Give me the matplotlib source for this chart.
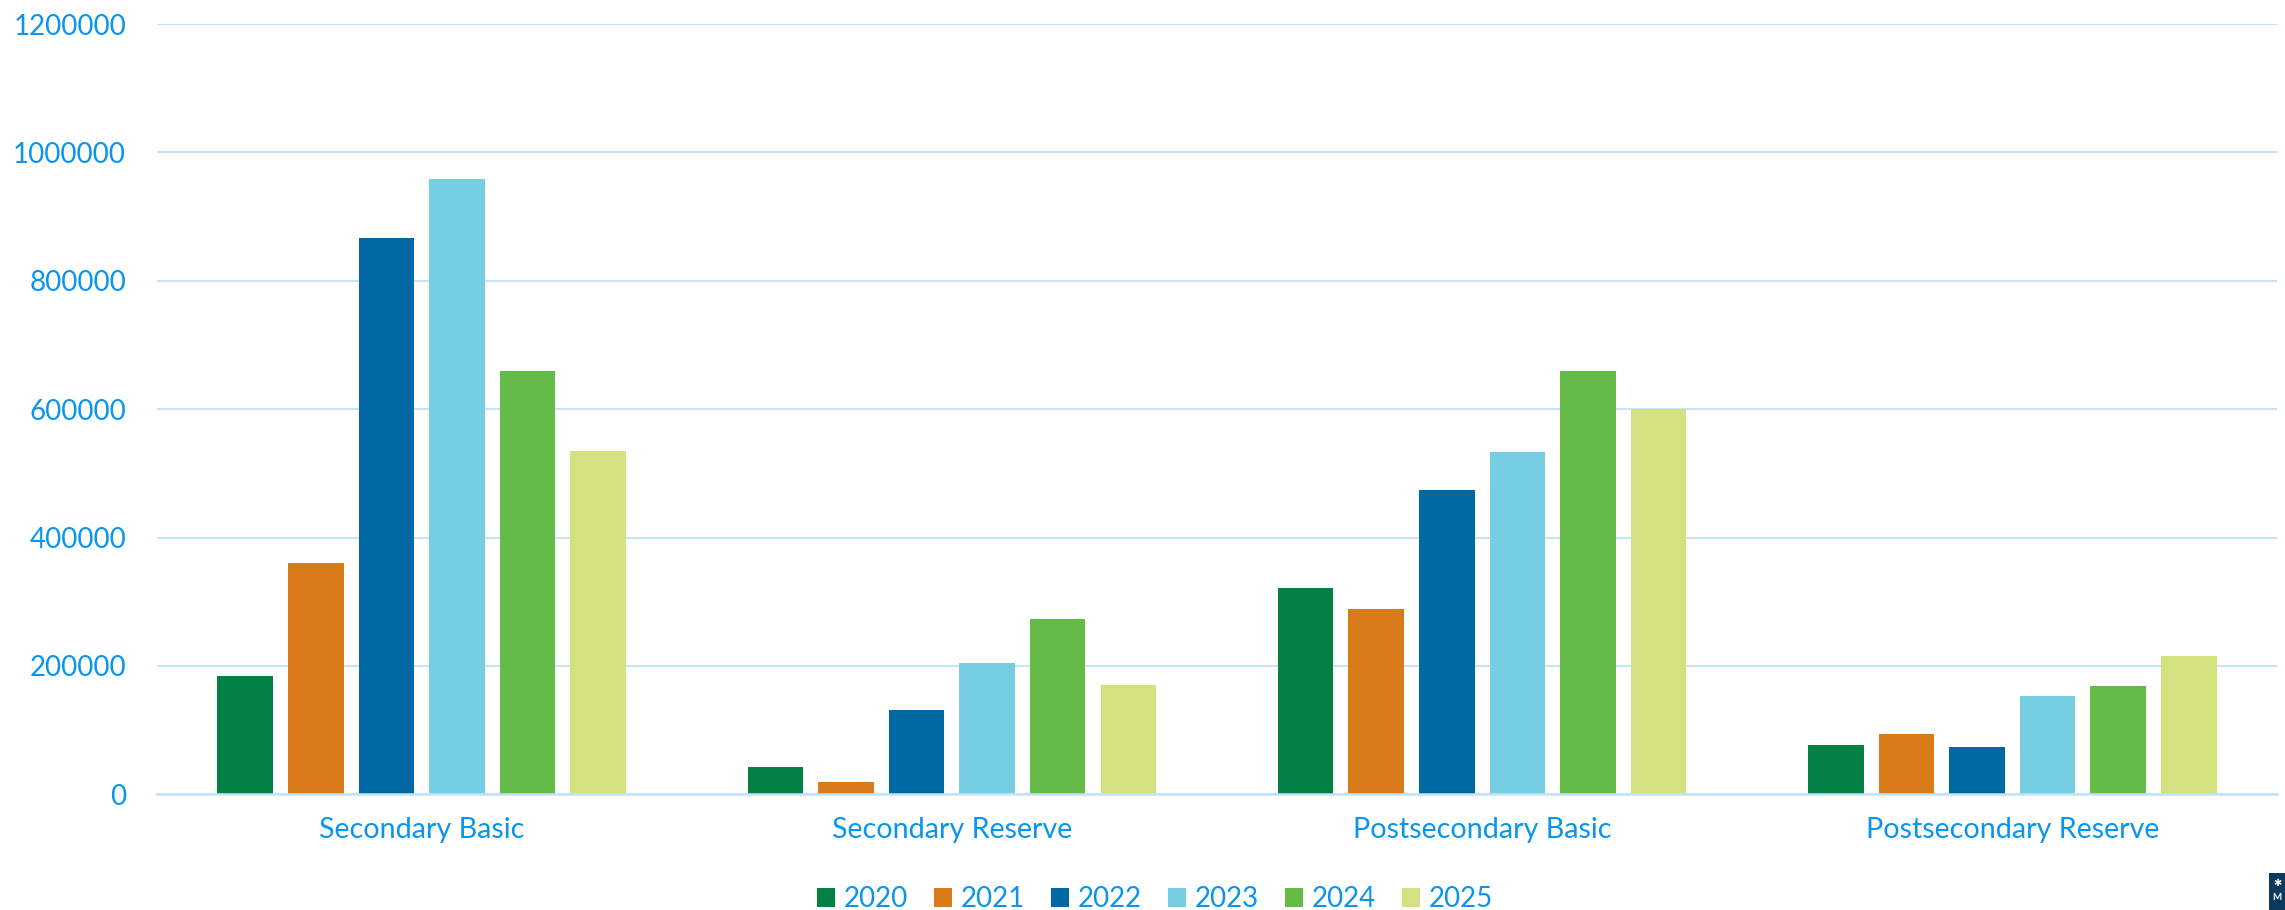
import matplotlib
matplotlib.use("Agg")
import matplotlib.pyplot as plt
from matplotlib.patches import Rectangle
import numpy as np

categories = ["Secondary Basic", "Secondary Reserve", "Postsecondary Basic", "Postsecondary Reserve"]
years = ["2020", "2021", "2022", "2023", "2024", "2025"]
v2020 = [184000, 42000, 321000, 77000]
v2021 = [360000, 19000, 288000, 94000]
v2022 = [866000, 132000, 474000, 74000]
v2023 = [959000, 204000, 534000, 153000]
v2024 = [659000, 273000, 659000, 169000]
v2025 = [535000, 170000, 600000, 215000]
series = [v2020, v2021, v2022, v2023, v2024, v2025]
colors = ["#038043", "#DA7B1A", "#0069A3", "#76CEE3", "#64BB48", "#D4E17F"]
yticks = [0, 200000, 400000, 600000, 800000, 1000000, 1200000]

text_color = "#0995EE"
grid_color = "#C3E4FA"

plt.rcParams['font.family'] = ['Lato', 'DejaVu Sans']

fig = plt.figure(figsize=(22.85, 9.10), dpi=100)
ax = fig.add_axes([0.0685, 0.1271, 0.9967 - 0.0685, 0.9736 - 0.1271])

x = np.arange(len(categories))
pitch = 0.1331
width = 0.1047
for i, (vals, c, yr) in enumerate(zip(series, colors, years)):
    ax.bar(x + (i - 2.5) * pitch, vals, width=width, color=c, label=yr, zorder=3)

ax.set_xlim(-0.5, len(categories) - 0.5)
ax.set_ylim(0, 1200000)
ax.set_yticks(yticks)
ax.set_yticklabels([str(t) for t in yticks])
ax.set_xticks(x)
ax.set_xticklabels(categories)

ax.grid(axis='y', color=grid_color, linewidth=1.4, zorder=0)
for s in ['top', 'right', 'left']:
    ax.spines[s].set_visible(False)
ax.spines['bottom'].set_color(grid_color)
ax.spines['bottom'].set_linewidth(1.8)
ax.spines['bottom'].set_zorder(4)

ax.tick_params(axis='y', length=0, pad=22, labelsize=20, labelcolor=text_color)
ax.tick_params(axis='x', length=0, pad=16, labelsize=20.6, labelcolor=text_color)

leg = fig.legend(loc='center', bbox_to_anchor=(0.5055, 0.012), ncol=6, frameon=False,
                 fontsize=20, handlelength=0.65, handleheight=0.65, handletextpad=0.3,
                 columnspacing=0.95, borderaxespad=0, borderpad=0)
for t in leg.get_texts():
    t.set_color(text_color)

# small logo in bottom-right corner
fig.patches.append(Rectangle((2269 / 2285, 0), 16 / 2285, 37 / 910, transform=fig.transFigure,
                             facecolor="#0B3A5E", edgecolor='none'))
fig.text(2277 / 2285, 27 / 910, "✱", color="white", fontsize=7, ha='center', va='center',
         family=['DejaVu Sans'])
fig.text(2277 / 2285, 12 / 910, "M", color="white", fontsize=7, ha='center', va='center',
         fontweight='bold')

fig.savefig("out.png", dpi=100, facecolor='white')
